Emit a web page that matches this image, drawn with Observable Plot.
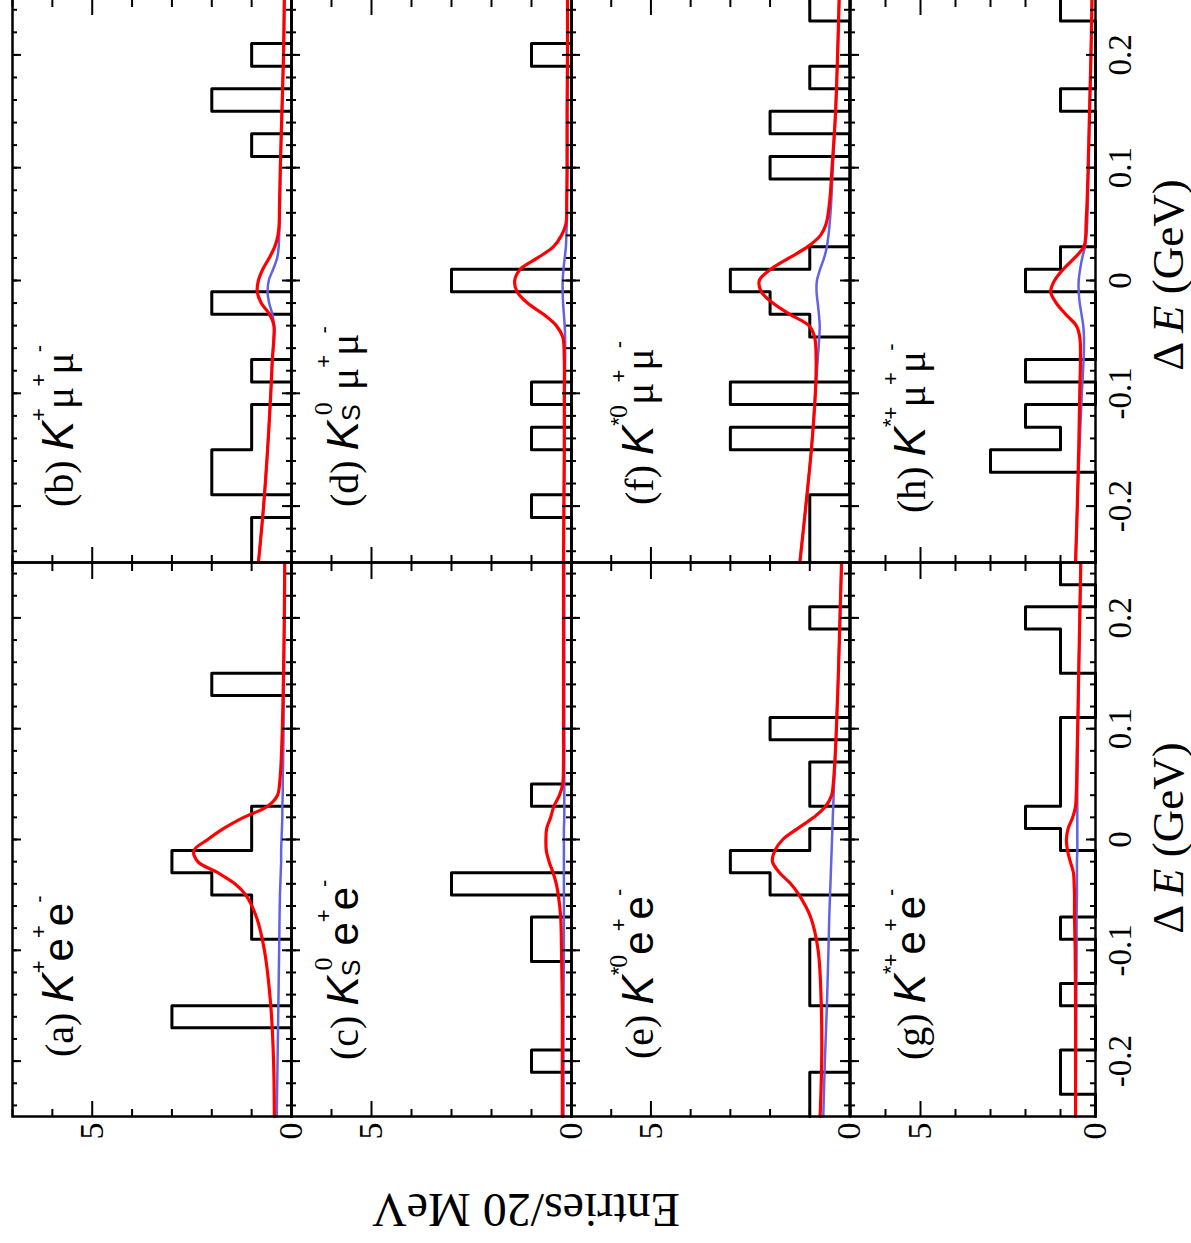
<!DOCTYPE html>
<html><head><meta charset="utf-8">
<script src="https://cdn.jsdelivr.net/npm/d3@7"></script>
<script src="https://cdn.jsdelivr.net/npm/@observablehq/plot@0.6"></script>
<style>
html,body{margin:0;padding:0;background:#fff;width:1191px;height:1243px;overflow:hidden}
#fig{position:absolute;left:0;top:0;width:1243px;height:1191px;transform-origin:0 0;transform:translate(0px,1243px) rotate(-90deg);background:#fff}
.panel{position:absolute}
.lab{position:absolute;white-space:nowrap;font-family:"Liberation Serif",serif;font-size:40px;line-height:1;color:#000}
.K{font-family:"Liberation Sans",sans-serif;font-style:italic;font-size:44px}
.sf{font-family:"Liberation Sans",sans-serif;font-size:42px}
.mu{font-family:"Liberation Serif",serif;font-size:42px}
.sup{font-family:"Liberation Sans",sans-serif;font-size:22px;position:relative;top:-27px;letter-spacing:-1px}
.supn{font-family:"Liberation Serif",serif;font-size:26px;position:relative;top:-26px}
.sub{font-family:"Liberation Sans",sans-serif;font-size:25px;position:relative;top:2px}
.ytitle{position:absolute;width:600px;height:60px;line-height:60px;text-align:center;font-family:"Liberation Serif",serif;font-size:48px;transform:rotate(-90deg);white-space:nowrap}
.xtitle{position:absolute;width:400px;text-align:center;font-family:"Liberation Serif",serif;font-size:45px;line-height:1;white-space:nowrap}
</style></head>
<body>
<div id="fig"></div>
<script>
// ---- data ----
const binEdges = [-0.25,-0.23,-0.21,-0.19,-0.17,-0.15,-0.13,-0.11,-0.09,-0.07,-0.05,-0.03,-0.01,0.01,0.03,0.05,0.07,0.09,0.11,0.13,0.15,0.17,0.19,0.21,0.23,0.25];
const xMinorTicks = [-0.24,-0.22,-0.2,-0.18,-0.16,-0.14,-0.12,-0.1,-0.08,-0.06,-0.04,-0.02,0,0.02,0.04,0.06,0.08,0.1,0.12,0.14,0.16,0.18,0.2,0.22,0.24];
const xMajorTicks = [-0.2,-0.1,0,0.1,0.2];
const xTickLabels = ["-0.2","-0.1","0","0.1","0.2"];
const yMinorTicks = [1,2,3,4,6,7];
const yMajorTicks = [0,5];
const yTickLabels = ["0","5"];

const countsA = [0,0,0,0,3,0,0,0,1,1,2,3,1,1,0,0,0,0,0,2,0,0,0,0,0];
const countsB = [1,1,0,2,2,1,1,0,1,0,0,2,0,0,0,0,0,0,1,0,2,0,1,0,0];
const countsC = [0,0,1,0,0,0,0,1,1,0,3,0,0,0,1,0,0,0,0,0,0,0,0,0,0];
const countsD = [0,0,1,0,0,1,0,1,0,0,0,0,3,0,0,0,0,0,0,0,0,0,1,0,0];
const countsE = [1,1,0,0,0,1,1,1,0,0,2,3,1,0,1,1,0,2,0,0,0,0,1,0,0];
const countsF = [1,1,1,0,0,3,0,3,0,0,1,2,3,1,0,0,0,2,0,2,0,1,0,0,1];
const countsG = [0,1,1,0,0,1,0,0,1,0,0,0,1,2,1,1,1,1,0,0,1,1,2,0,1];
const countsH = [0,0,0,0,3,1,2,0,2,0,0,0,2,1,0,0,0,0,0,0,1,0,0,0,1];

const curveX = [-0.25,-0.2,-0.15,-0.1,-0.07,-0.05,-0.04,-0.03,-0.02,-0.01,0,0.01,0.02,0.03,0.04,0.05,0.07,0.1,0.15,0.2,0.25];
const redA  = [0.43,0.45,0.52,0.68,0.88,1.15,1.42,1.85,2.35,2.45,2.1,1.7,1.2,0.6,0.35,0.3,0.26,0.23,0.2,0.18,0.17];
const blueA = [0.37,0.35,0.33,0.31,0.3,0.29,0.28,0.27,0.26,0.26,0.25,0.24,0.23,0.23,0.22,0.22,0.21,0.2,0.19,0.18,0.17];
const redB  = [0.83,0.7,0.6,0.52,0.48,0.44,0.44,0.55,0.76,0.86,0.83,0.72,0.56,0.42,0.34,0.31,0.3,0.28,0.24,0.2,0.18];
const blueB = [0.83,0.7,0.6,0.52,0.48,0.44,0.44,0.48,0.56,0.6,0.57,0.46,0.36,0.32,0.31,0.3,0.29,0.28,0.24,0.2,0.18];
const redC  = [0.23,0.23,0.23,0.25,0.27,0.33,0.38,0.46,0.56,0.63,0.64,0.62,0.52,0.44,0.3,0.22,0.2,0.2,0.2,0.2,0.2];
const blueC = [0.2,0.2,0.2,0.19,0.19,0.19,0.19,0.19,0.19,0.19,0.19,0.19,0.18,0.18,0.18,0.18,0.18,0.18,0.18,0.18,0.18];
const redD  = [0.2,0.19,0.18,0.18,0.18,0.22,0.38,0.7,1.1,1.36,1.42,1.28,0.85,0.45,0.25,0.14,0.12,0.11,0.11,0.1,0.1];
const blueD = [0.2,0.19,0.18,0.17,0.16,0.16,0.17,0.19,0.21,0.22,0.22,0.2,0.17,0.14,0.13,0.12,0.12,0.11,0.11,0.1,0.1];
const redE  = [0.74,0.7,0.71,0.79,0.98,1.27,1.48,1.76,1.94,1.88,1.68,1.3,0.9,0.6,0.45,0.41,0.37,0.33,0.28,0.24,0.2];
const blueE = [0.66,0.62,0.57,0.53,0.51,0.49,0.48,0.47,0.46,0.45,0.44,0.43,0.42,0.41,0.4,0.39,0.36,0.33,0.28,0.24,0.2];
const redF  = [1.25,1.1,0.96,0.86,0.84,0.88,1.02,1.5,1.93,2.22,2.27,1.98,1.52,1.05,0.73,0.59,0.5,0.44,0.35,0.3,0.26];
const blueF = [1.25,1.1,0.96,0.86,0.8,0.76,0.75,0.77,0.8,0.83,0.82,0.74,0.64,0.57,0.53,0.5,0.46,0.42,0.35,0.3,0.26];
const redG  = [0.57,0.57,0.57,0.58,0.6,0.6,0.61,0.63,0.72,0.8,0.83,0.78,0.65,0.57,0.55,0.54,0.53,0.51,0.48,0.45,0.42];
const blueG = [0.57,0.56,0.55,0.54,0.54,0.53,0.53,0.53,0.53,0.52,0.52,0.52,0.52,0.52,0.52,0.52,0.51,0.5,0.48,0.45,0.42];
const redH  = [0.57,0.52,0.48,0.45,0.43,0.45,0.55,0.85,1.12,1.28,1.17,0.92,0.6,0.33,0.28,0.27,0.24,0.21,0.17,0.13,0.1];
const blueH = [0.57,0.52,0.46,0.39,0.34,0.33,0.35,0.4,0.45,0.48,0.48,0.44,0.38,0.3,0.26,0.24,0.22,0.2,0.17,0.13,0.1];

const panelLabels = [
  '(a) <span class="K">K</span><span class="sup">+</span><span class="sf">e</span><span class="sup">+</span><span class="sf">e</span><span class="sup">-</span>',
  '(b) <span class="K">K</span><span class="sup">+</span><span class="mu">μ</span><span class="sup">+</span><span class="mu">μ</span><span class="sup">-</span>',
  '(c) <span class="K">K</span><span class="sub">S</span><span class="supn" style="margin-left:-11px;margin-right:2px">0</span> <span class="sf">e</span><span class="sup">+</span><span class="sf">e</span><span class="sup">-</span>',
  '(d) <span class="K">K</span><span class="sub">S</span><span class="supn" style="margin-left:-11px;margin-right:2px">0</span> <span class="mu">μ</span><span class="sup">+</span><span class="mu">μ</span><span class="sup">-</span>',
  '(e) <span class="K">K</span><span class="sup">*</span><span class="supn">0</span><span class="sf">e</span><span class="sup">+</span><span class="sf">e</span><span class="sup">-</span>',
  '(f) <span class="K">K</span><span class="sup">*</span><span class="supn">0</span><span class="mu">μ</span><span class="sup">+</span><span class="mu">μ</span><span class="sup">-</span>',
  '(g) <span class="K">K</span><span class="sup">*+</span><span class="sf">e</span><span class="sup">+</span><span class="sf">e</span><span class="sup">-</span>',
  '(h) <span class="K">K</span><span class="sup">*+</span><span class="mu">μ</span><span class="sup">+</span><span class="mu">μ</span><span class="sup">-</span>'
];
const yTitle = "Entries/20 MeV";
const xTitle = 'Δ <i>E</i> (GeV)';

// ---- layout (original, unrotated orientation) ----
const colX = [126, 680], colW = [554, 564];
const rowY = [12, 291, 571, 850], rowH = [279, 280, 278, 245];
const labelPos = [[186,73],[736,73],[183,358],[736,358],[184,653],[738,653],[183,925],[730,925]];
const RED = "#ff0000", BLUE = "#6262e4";

const panels = [
  {row:0,col:0,counts:countsA,red:redA,blue:blueA},
  {row:0,col:1,counts:countsB,red:redB,blue:blueB},
  {row:1,col:0,counts:countsC,red:redC,blue:blueC},
  {row:1,col:1,counts:countsD,red:redD,blue:blueD},
  {row:2,col:0,counts:countsE,red:redE,blue:blueE},
  {row:2,col:1,counts:countsF,red:redF,blue:blueF},
  {row:3,col:0,counts:countsG,red:redG,blue:blueG},
  {row:3,col:1,counts:countsH,red:redH,blue:blueH}
];

const fig = document.getElementById("fig");

panels.forEach((p, k) => {
  const left = p.col === 0, bottom = p.row === 3;
  const FW = colW[p.col], FH = rowH[p.row];
  const ml = left ? 70 : 4, mr = 4, mt = 4, mb = bottom ? 70 : 4;
  const hist = binEdges.map((e, i) => ({x: e, y: p.counts[Math.min(i, p.counts.length - 1)]}));
  const red = curveX.map((x, i) => ({x, y: p.red[i]}));
  const blue = curveX.map((x, i) => ({x, y: p.blue[i]}));
  const tk = {stroke: "black", strokeWidth: 2};
  const marks = [
    Plot.line(hist, {x: "x", y: "y", curve: "step-after", stroke: "black", strokeWidth: 3}),
    Plot.line(blue, {x: "x", y: "y", curve: "catmull-rom", stroke: BLUE, strokeWidth: 2.5}),
    Plot.line(red, {x: "x", y: "y", curve: "catmull-rom", stroke: RED, strokeWidth: 3.2}),
    Plot.ruleX(xMinorTicks, {...tk, insetTop: FH - 5}),
    Plot.ruleX(xMinorTicks, {...tk, insetBottom: FH - 5}),
    Plot.ruleX(xMajorTicks, {...tk, insetTop: FH - 9}),
    Plot.ruleX(xMajorTicks, {...tk, insetBottom: FH - 9}),
    Plot.ruleY(yMinorTicks, {...tk, insetRight: FW - 8}),
    Plot.ruleY(yMinorTicks, {...tk, insetLeft: FW - 8}),
    Plot.ruleY([5], {...tk, insetRight: FW - 16}),
    Plot.ruleY([5], {...tk, insetLeft: FW - 16}),
    Plot.frame({stroke: "black", strokeWidth: 2.5})
  ];
  if (left) marks.push(Plot.axisY({ticks: yMajorTicks, anchor: "left", tickSize: 0, tickPadding: 6, label: null,
      tickFormat: d => yTickLabels[yMajorTicks.indexOf(d)], fontSize: 34, fontFamily: "Liberation Serif"}));
  if (bottom) marks.push(Plot.axisX({ticks: xMajorTicks, anchor: "bottom", tickSize: 0, tickPadding: 12, label: null,
      tickFormat: d => xTickLabels[xMajorTicks.indexOf(d)], fontSize: 33, fontFamily: "Liberation Serif"}));
  const svg = Plot.plot({
    width: FW + ml + mr, height: FH + mt + mb,
    marginLeft: ml, marginRight: mr, marginTop: mt, marginBottom: mb,
    x: {domain: [-0.25, 0.25], ...(bottom ? {} : {axis: null})},
    y: {domain: [0, 7], ...(left ? {} : {axis: null})},
    style: {overflow: "visible", background: "transparent", fontFamily: "Liberation Serif", fontSize: "33px", color: "black"},
    marks
  });
  svg.classList.add("panel");
  svg.style.position = "absolute";
  svg.style.left = (colX[p.col] - ml) + "px";
  svg.style.top = (rowY[p.row] - mt) + "px";
  fig.appendChild(svg);

  const lab = document.createElement("div");
  lab.className = "lab";
  lab.innerHTML = panelLabels[k];
  lab.style.left = labelPos[k][0] + "px";
  lab.style.top = (labelPos[k][1] - 37) + "px";
  fig.appendChild(lab);
});

const yt = document.createElement("div");
yt.className = "ytitle";
yt.textContent = yTitle;
yt.style.left = (33 - 300) + "px";
yt.style.top = (526 - 30) + "px";
fig.appendChild(yt);

[405, 968].forEach(cx => {
  const xt = document.createElement("div");
  xt.className = "xtitle";
  xt.innerHTML = xTitle;
  xt.style.left = (cx - 200) + "px";
  xt.style.top = (1182 - 36) + "px";
  fig.appendChild(xt);
});
</script>
</body></html>
